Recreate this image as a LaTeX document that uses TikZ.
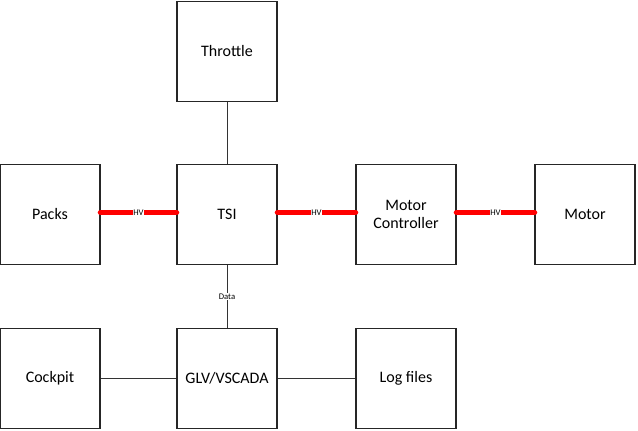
\documentclass[tikz,border=0pt]{standalone}
\usepackage{fontspec}
\setmainfont{Carlito}
\usepackage{tikz}
\usetikzlibrary{positioning}

\tikzset{
    block/.style={draw=black!85, line width=0.8pt, minimum width=75pt, minimum height=74.5pt, align=center, font=\fontsize{12}{14}\selectfont, inner sep=2pt},
    hvline/.style={draw=red, line width=4.2pt, line cap=round},
    sigline/.style={draw=black!80, line width=0.75pt},
    tag/.style={font=\fontsize{6.5}{7}\selectfont, fill=white, inner sep=0.5pt}
}

\begin{document}
\begin{tikzpicture}[x=0.75pt, y=-0.75pt]
    \useasboundingbox (0,0) rectangle (638,431);

    % Define nodes
    \node[block] (throttle) at (227,51.5) {Throttle};
    \node[block] (packs) at (50,214.5) {Packs};
    \node[block] (tsi) at (227,214.5) {TSI};
    \node[block] (mc) at (406,214.5) {Motor\\Controller};
    \node[block] (motor) at (585,214.5) {Motor};
    \node[block] (cockpit) at (50,378.5) {Cockpit};
    \node[block] (glv) at (227,378.5) {GLV/VSCADA};
    \node[block] (logs) at (406,378.5) {Log files};

    % Draw edges
    \draw[sigline] (throttle) -- (tsi);
    \draw[sigline] (tsi) -- node[tag] {Data} (glv);
    \draw[sigline] (cockpit) -- (glv);
    \draw[sigline] (glv) -- (logs);

    % HV connections
    \foreach \a/\b in {packs/tsi, tsi/mc, mc/motor} {
        \draw[hvline] ([yshift=1.5pt]\a.east) -- node[tag] {HV} ([yshift=1.5pt]\b.west);
    }

\end{tikzpicture}
\end{document}
